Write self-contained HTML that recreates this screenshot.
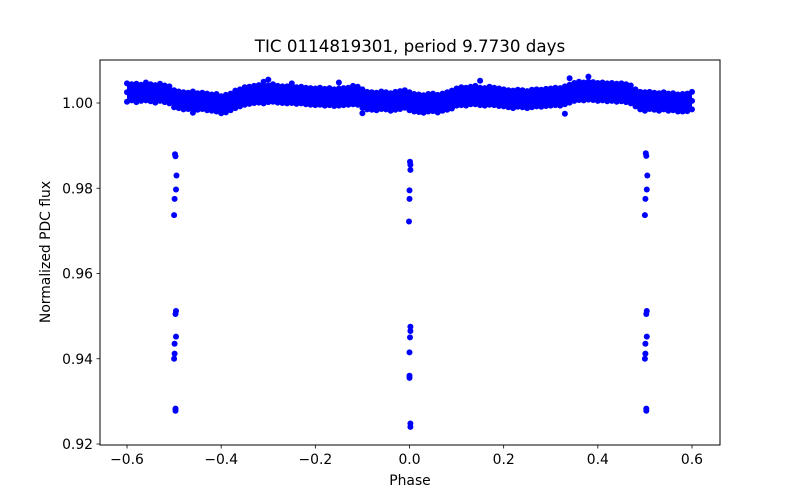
<!DOCTYPE html>
<html><head><meta charset="utf-8"><style>
body{margin:0;background:#fff;}
svg{display:block;font-family:"DejaVu Sans","Liberation Sans",sans-serif;}
</style></head><body>
<svg id="chart" width="800" height="500" viewBox="0 0 800 500" xmlns="http://www.w3.org/2000/svg">
<rect x="0" y="0" width="800" height="500" fill="#fff"/>
<text x="410" y="52" text-anchor="middle" font-size="16.7">TIC 0114819301, period 9.7730 days</text>
<g id="marks"></g>
<g id="axes"></g>
<rect x="100" y="60" width="620" height="385" fill="none" stroke="#000" stroke-width="1"/>
<text x="410" y="485" text-anchor="middle" font-size="13.9">Phase</text>
<text transform="translate(50,252) rotate(-90)" text-anchor="middle" font-size="13.9">Normalized PDC flux</text>
</svg>
<script>
const phaseStart = -0.6, phaseStep = 0.01;
const fluxMidPpt = [2.5,2.6,2.4,2.5,2.7,2.5,2.3,2.4,2.2,2.0,
1.2,0.8,0.6,0.5,0.6,0.4,0.5,0.3,0.2,0.1,
-0.3,-0.2,0.3,0.8,1.2,
1.6,1.8,2.0,2.1,2.0,2.2,2.3,2.1,2.0,1.9,2.0,1.8,1.9,1.7,1.6,
1.5,1.6,1.4,1.5,1.3,1.4,1.5,1.6,1.8,1.7,
1.0,0.6,0.5,0.4,0.6,0.5,0.3,0.5,0.7,0.9,
0.4,0.1,0.0,-0.2,0.0,0.1,-0.1,0.2,0.4,0.8,
1.4,1.6,1.5,1.7,1.8,1.6,1.5,1.7,1.6,1.4,
1.2,1.0,0.9,1.1,1.0,0.8,1.0,1.2,1.1,1.3,
1.4,1.6,1.5,1.8,2.2,
2.6,2.8,2.7,2.9,2.8,2.6,2.7,2.5,2.6,2.4,2.5,2.3,2.0,
1.2,0.6,0.5,0.6,0.4,0.3,0.5,0.2,0.3,0.0,0.1,0.2,0.5];
const fluxHiPpt = [4.6,4.4,4.5,4.3,4.8,4.4,4.2,4.5,4.1,3.9,
3.0,2.7,2.5,2.4,2.7,2.3,2.4,2.2,2.0,2.1,
1.6,1.9,2.2,2.9,3.2,
3.7,3.8,4.0,4.2,3.9,4.1,4.4,4.0,3.9,3.9,4.1,3.7,3.8,3.6,3.5,
3.4,3.6,3.3,3.5,3.2,3.4,3.5,3.6,4.0,3.8,
3.2,2.6,2.5,2.4,2.7,2.5,2.3,2.6,2.8,3.0,
2.5,2.1,2.0,1.8,2.1,2.2,1.9,2.2,2.5,2.9,
3.4,3.7,3.6,3.8,4.0,3.6,3.5,3.8,3.6,3.4,
3.2,3.0,2.9,3.1,3.0,2.8,3.1,3.2,3.1,3.3,
3.4,3.6,3.5,3.9,4.3,
4.7,5.0,4.8,5.0,4.9,4.7,4.8,4.6,4.7,4.5,4.6,4.4,4.1,
3.2,2.6,2.5,2.6,2.4,2.3,2.5,2.2,2.3,2.0,2.1,2.2,2.6];
const fluxLoPpt = [0.3,0.6,0.2,0.5,0.6,0.4,0.1,0.5,0.2,-0.1,
-1.0,-1.2,-1.5,-1.4,-1.3,-1.6,-1.4,-1.7,-1.8,-2.0,
-2.4,-2.2,-1.7,-1.2,-0.8,
-0.4,-0.2,0.0,0.1,-0.1,0.2,0.3,0.1,0.0,-0.1,0.0,-0.2,-0.1,-0.3,-0.4,
-0.5,-0.4,-0.6,-0.5,-0.7,-0.6,-0.5,-0.4,-0.3,-0.4,
-1.1,-1.5,-1.6,-1.7,-1.4,-1.5,-1.8,-1.6,-1.4,-1.1,
-1.7,-2.0,-2.1,-2.3,-2.0,-1.9,-2.2,-1.8,-1.6,-1.3,
-0.6,-0.5,-0.6,-0.3,-0.3,-0.5,-0.6,-0.4,-0.5,-0.7,
-0.8,-1.0,-1.2,-0.9,-1.0,-1.2,-1.0,-0.8,-0.9,-0.7,
-0.6,-0.5,-0.6,-0.3,0.1,
0.5,0.7,0.6,0.8,0.7,0.5,0.6,0.4,0.5,0.3,0.4,0.2,-0.1,
-0.8,-1.5,-1.6,-1.4,-1.6,-1.8,-1.5,-1.8,-1.7,-2.0,-2.0,-1.9,-1.5];
const outlierPhase = [-0.30,-0.31,-0.15,0.15,0.34,0.38,-0.46,0.33,0.06,-0.10,0.50,-0.25];
const outlierFlux = [1.0055,1.0050,1.0048,1.0052,1.0058,1.0062,0.9977,0.9975,0.9978,0.9976,0.9982,1.0046];
const dipPhase = [-0.498,-0.497,-0.495,-0.496,-0.499,-0.500,-0.496,-0.497,-0.496,-0.499,-0.499,-0.500,-0.497,-0.497,
0.001,0.002,0.002,0.000,0.000,-0.001,0.002,0.002,0.001,0.000,0.000,0.000,0.002,0.002,
0.502,0.503,0.505,0.504,0.501,0.500,0.504,0.503,0.504,0.501,0.501,0.500,0.503,0.503];
const dipFlux = [0.9880,0.9875,0.9830,0.9797,0.9775,0.9737,0.9512,0.9505,0.9452,0.9435,0.9412,0.9400,0.9283,0.9278,
0.9862,0.9855,0.9843,0.9795,0.9775,0.9722,0.9475,0.9465,0.9450,0.9415,0.9360,0.9355,0.9248,0.9240,
0.9882,0.9876,0.9830,0.9797,0.9775,0.9737,0.9512,0.9505,0.9452,0.9435,0.9412,0.9400,0.9283,0.9278];
const xTicks = [-0.6,-0.4,-0.2,0.0,0.2,0.4,0.6];
const xTickLabels = ["\u22120.6","\u22120.4","\u22120.2","0.0","0.2","0.4","0.6"];
const yTicks = [0.92,0.94,0.96,0.98,1.00];
const yTickLabels = ["0.92","0.94","0.96","0.98","1.00"];

const NS="http://www.w3.org/2000/svg";
function xs(p){return 409.5+(p)*470.8;}
function ys(f){return 103-(f-1.0)*4262.5;}
const marks=document.getElementById('marks');
const axes=document.getElementById('axes');
function mk(tag,attrs,parent){const e=document.createElementNS(NS,tag);for(const k in attrs)e.setAttribute(k,attrs[k]);parent.appendChild(e);return e;}

// band
let d="";
for(let i=0;i<fluxHiPpt.length;i++){const p=phaseStart+i*phaseStep;d+=(i?"L":"M")+xs(p).toFixed(1)+","+ys(1+fluxHiPpt[i]/1000).toFixed(1);}
for(let i=fluxLoPpt.length-1;i>=0;i--){const p=phaseStart+i*phaseStep;d+="L"+xs(p).toFixed(1)+","+ys(1+fluxLoPpt[i]/1000).toFixed(1);}
d+="Z";
const band=mk('path',{d:d,fill:'#0000ff'},marks);



function dot(p,f){const c=mk('circle',{cx:xs(p).toFixed(1),cy:ys(f).toFixed(1),r:3,fill:'#0000ff'},marks);

}
for(let i=0;i<fluxMidPpt.length;i++){const p=phaseStart+i*phaseStep;
dot(p,1+fluxHiPpt[i]/1000);dot(p,1+fluxMidPpt[i]/1000);dot(p,1+fluxLoPpt[i]/1000);}
for(let i=0;i<outlierPhase.length;i++)dot(outlierPhase[i],outlierFlux[i]);
for(let i=0;i<dipPhase.length;i++)dot(dipPhase[i],dipFlux[i]);

for(let i=0;i<xTicks.length;i++){const x=xs(xTicks[i]);
const t=mk('line',{x1:x,x2:x,y1:445,y2:448.5,stroke:'#000','stroke-width':0.8},axes);


const l=mk('text',{x:x,y:464,'text-anchor':'middle','font-size':13.9},axes);l.textContent=xTickLabels[i];

}
for(let i=0;i<yTicks.length;i++){const y=ys(yTicks[i]);
const t=mk('line',{x1:96.5,x2:100,y1:y,y2:y,stroke:'#000','stroke-width':0.8},axes);


const l=mk('text',{x:93,y:y+5,'text-anchor':'end','font-size':13.9},axes);l.textContent=yTickLabels[i];

}
</script>
</body></html>
